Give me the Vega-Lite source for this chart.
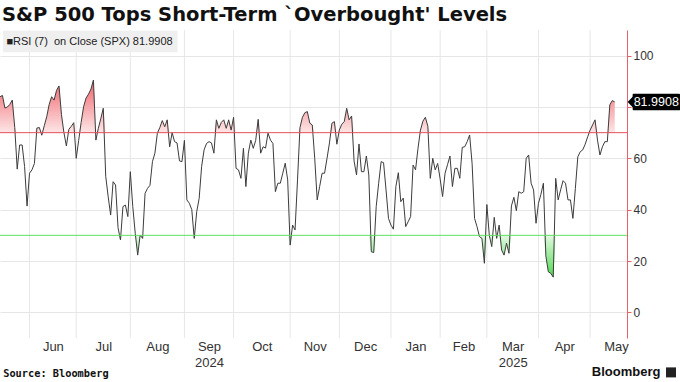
{
  "$schema": "https://vega.github.io/schema/vega-lite/v6.json",
  "width": 627,
  "height": 308,
  "autosize": "none",
  "padding": {"left": 0, "top": 30, "right": 53, "bottom": 44},
  "background": "#ffffff",
  "title": {"text": "S&P 500 Tops Short-Term `Overbought' Levels", "anchor": "start", "frame": "group", "font": "DejaVu Sans", "fontSize": 19.5, "fontWeight": "bold", "color": "#111111", "baseline": "alphabetic", "offset": 9, "dx": 2, "dy": 20},
  "config": {"view": {"stroke": null}, "axis": {"labelFont": "Liberation Sans", "labelColor": "#333333"}},
  "datasets": {
    "rsi": [
      {"i":0,"v":84},{"i":1,"v":84.5},{"i":2,"v":79.6},{"i":3,"v":80},{"i":4,"v":81},{"i":5,"v":82.7},{"i":6,"v":72},{"i":7,"v":55.8},{"i":8,"v":65.2},{"i":9,"v":65.2},
      {"i":10,"v":56.8},{"i":11,"v":41.4},{"i":12,"v":54.2},{"i":13,"v":55.5},{"i":14,"v":58},{"i":15,"v":71.8},{"i":16,"v":72},{"i":17,"v":69},{"i":18,"v":72.7},{"i":19,"v":76.2},
      {"i":20,"v":81},{"i":21,"v":84},{"i":22,"v":82.7},{"i":23,"v":86.5},{"i":24,"v":88.2},{"i":25,"v":77},{"i":26,"v":70},{"i":27,"v":64.8},{"i":28,"v":71.3},{"i":29,"v":72.5},
      {"i":30,"v":73.9},{"i":31,"v":60},{"i":32,"v":67},{"i":33,"v":74},{"i":34,"v":80.1},{"i":35,"v":83.5},{"i":36,"v":85},{"i":37,"v":87},{"i":38,"v":90.5},{"i":39,"v":67.1},
      {"i":40,"v":71.7},{"i":41,"v":75.5},{"i":42,"v":79.5},{"i":43,"v":53},{"i":44,"v":45},{"i":45,"v":37.9},{"i":46,"v":50.9},{"i":47,"v":49.6},{"i":48,"v":33},{"i":49,"v":28.2},
      {"i":50,"v":41.2},{"i":51,"v":41.8},{"i":52,"v":37.3},{"i":53,"v":54.8},{"i":54,"v":41.2},{"i":55,"v":30.8},{"i":56,"v":22.3},{"i":57,"v":30.1},{"i":58,"v":28.8},{"i":59,"v":46.4},
      {"i":60,"v":48.3},{"i":61,"v":49.5},{"i":62,"v":58.7},{"i":63,"v":62},{"i":64,"v":69.8},{"i":65,"v":72},{"i":66,"v":74.7},{"i":67,"v":72.3},{"i":68,"v":75},{"i":69,"v":64.5},
      {"i":70,"v":70},{"i":71,"v":66.5},{"i":72,"v":66},{"i":73,"v":59},{"i":74,"v":58.7},{"i":75,"v":67},{"i":76,"v":43.8},{"i":77,"v":42.5},{"i":78,"v":40},{"i":79,"v":28.8},
      {"i":80,"v":39.2},{"i":81,"v":44.4},{"i":82,"v":56.8},{"i":83,"v":63.3},{"i":84,"v":65.8},{"i":85,"v":66.5},{"i":86,"v":66},{"i":87,"v":62},{"i":88,"v":75},{"i":89,"v":71.7},
      {"i":90,"v":74},{"i":91,"v":75},{"i":92,"v":71.7},{"i":93,"v":75},{"i":94,"v":71},{"i":95,"v":76},{"i":96,"v":56.1},{"i":97,"v":55.5},{"i":98,"v":52.2},{"i":99,"v":63.9},
      {"i":100,"v":49},{"i":101,"v":62},{"i":102,"v":67.1},{"i":103,"v":63.9},{"i":104,"v":67},{"i":105,"v":75.2},{"i":106,"v":62},{"i":107,"v":64.5},{"i":108,"v":64},{"i":109,"v":69.8},
      {"i":110,"v":67.1},{"i":111,"v":65.8},{"i":112,"v":47},{"i":113,"v":50.3},{"i":114,"v":50.3},{"i":115,"v":54.2},{"i":116,"v":58.1},{"i":117,"v":51.6},{"i":118,"v":26.2},{"i":119,"v":34},
      {"i":120,"v":32.1},{"i":121,"v":51.6},{"i":122,"v":72},{"i":123,"v":76},{"i":124,"v":77.8},{"i":125,"v":78.2},{"i":126,"v":73.7},{"i":127,"v":73},{"i":128,"v":60},{"i":129,"v":43.8},
      {"i":130,"v":49},{"i":131,"v":54.2},{"i":132,"v":54.2},{"i":133,"v":60},{"i":134,"v":66},{"i":135,"v":73.7},{"i":136,"v":74.3},{"i":137,"v":65.5},{"i":138,"v":71},{"i":139,"v":73.3},
      {"i":140,"v":74.3},{"i":141,"v":79.5},{"i":142,"v":75},{"i":143,"v":76.5},{"i":144,"v":59},{"i":145,"v":53.5},{"i":146,"v":65.6},{"i":147,"v":54.8},{"i":148,"v":54.8},{"i":149,"v":60.9},
      {"i":150,"v":53.5},{"i":151,"v":23.6},{"i":152,"v":23.3},{"i":153,"v":41.2},{"i":154,"v":50.3},{"i":155,"v":58.7},{"i":156,"v":58.3},{"i":157,"v":47.7},{"i":158,"v":36.6},{"i":159,"v":34},
      {"i":160,"v":32.4},{"i":161,"v":49},{"i":162,"v":54.4},{"i":163,"v":43.1},{"i":164,"v":44.5},{"i":165,"v":33.4},{"i":166,"v":35.3},{"i":167,"v":37.3},{"i":168,"v":57.4},{"i":169,"v":55.5},
      {"i":170,"v":63.9},{"i":171,"v":71},{"i":172,"v":74.5},{"i":173,"v":76},{"i":174,"v":72.5},{"i":175,"v":52.2},{"i":176,"v":60},{"i":177,"v":55.5},{"i":178,"v":58},{"i":179,"v":52},
      {"i":180,"v":45.1},{"i":181,"v":54.2},{"i":182,"v":57.5},{"i":183,"v":60.9},{"i":184,"v":49},{"i":185,"v":56.1},{"i":186,"v":56.1},{"i":187,"v":52.2},{"i":188,"v":64.3},{"i":189,"v":64.5},
      {"i":190,"v":66.5},{"i":191,"v":69.1},{"i":192,"v":58},{"i":193,"v":36.6},{"i":194,"v":33.4},{"i":195,"v":29.5},{"i":196,"v":28.8},{"i":197,"v":19.1},{"i":198,"v":42},{"i":199,"v":30},
      {"i":200,"v":25.6},{"i":201,"v":37},{"i":202,"v":28.8},{"i":203,"v":34},{"i":204,"v":24.3},{"i":205,"v":22.3},{"i":206,"v":26.9},{"i":207,"v":23},{"i":208,"v":41.5},{"i":209,"v":44.8},
      {"i":210,"v":39.6},{"i":211,"v":47},{"i":212,"v":46.4},{"i":213,"v":47},{"i":214,"v":60},{"i":215,"v":61.3},{"i":216,"v":50.3},{"i":217,"v":47.7},{"i":218,"v":34.7},{"i":219,"v":42.5},
      {"i":220,"v":46},{"i":221,"v":50.3},{"i":222,"v":22},{"i":223,"v":15.8},{"i":224,"v":15.2},{"i":225,"v":13.7},{"i":226,"v":52.2},{"i":227,"v":43.8},{"i":228,"v":47.7},{"i":229,"v":51.3},
      {"i":230,"v":50.3},{"i":231,"v":43.8},{"i":232,"v":43.8},{"i":233,"v":36.6},{"i":234,"v":48.3},{"i":235,"v":60.6},{"i":236,"v":62.6},{"i":237,"v":63.3},{"i":238,"v":65.5},{"i":239,"v":68.4},
      {"i":240,"v":71},{"i":241,"v":73},{"i":242,"v":75},{"i":243,"v":67.1},{"i":244,"v":61.3},{"i":245,"v":64.5},{"i":246,"v":66.5},{"i":247,"v":66.5},{"i":248,"v":80.8},{"i":249,"v":82.5},
      {"i":250,"v":81.9908}
    ],
    "months": [{"i":12},{"i":31},{"i":53},{"i":75},{"i":95},{"i":118},{"i":138},{"i":159},{"i":179},{"i":198},{"i":219},{"i":240}],
    "one": [{}]
  },
  "resolve": {"scale": {"y": "independent"}},
  "layer": [
    {
      "data": {"name": "months"},
      "mark": {"type": "rule", "color": "#e6e6e6", "strokeWidth": 1},
      "encoding": {
        "x": {"field": "i", "type": "quantitative", "scale": {"domain": [0, 255], "nice": false, "zero": false},
          "axis": {"values": [21.5, 42, 64, 85, 106.5, 128, 148.5, 169, 188.5, 208.5, 229.5, 250.5],
            "labelExpr": "datum.value < 30 ? 'Jun' : datum.value < 50 ? 'Jul' : datum.value < 70 ? 'Aug' : datum.value < 95 ? ['Sep', '2024'] : datum.value < 115 ? 'Oct' : datum.value < 140 ? 'Nov' : datum.value < 160 ? 'Dec' : datum.value < 180 ? 'Jan' : datum.value < 200 ? 'Feb' : datum.value < 220 ? ['Mar', '2025'] : datum.value < 240 ? 'Apr' : 'May'",
            "grid": false, "ticks": false, "domain": false, "title": null, "labelFontSize": 13, "labelPadding": 2, "labelLineHeight": 16, "labelOverlap": false, "labelFlush": false}}
      }
    },
    {
      "data": {"name": "rsi"},
      "mark": {"type": "area", "interpolate": "linear", "color": {"gradient": "linear", "x1": 0, "y1": 0, "x2": 0, "y2": 1, "stops": [{"offset": 0, "color": "#f0646c"}, {"offset": 1, "color": "#fde6e6"}]}},
      "encoding": {
        "x": {"field": "i", "type": "quantitative", "scale": {"domain": [0, 255], "nice": false, "zero": false}},
        "y": {"field": "v", "type": "quantitative", "scale": {"domain": [70, 110], "range": [102.667, 0], "clamp": true, "nice": false, "zero": false}, "axis": null},
        "y2": {"datum": 70}
      }
    },
    {
      "data": {"name": "rsi"},
      "mark": {"type": "area", "interpolate": "linear", "color": {"gradient": "linear", "x1": 0, "y1": 0, "x2": 0, "y2": 1, "stops": [{"offset": 0, "color": "#e2f9e2"}, {"offset": 1, "color": "#4fd84f"}]}},
      "encoding": {
        "x": {"field": "i", "type": "quantitative", "scale": {"domain": [0, 255], "nice": false, "zero": false}},
        "y": {"field": "v", "type": "quantitative", "scale": {"domain": [-10, 30], "range": [308, 205.333], "clamp": true, "nice": false, "zero": false}, "axis": null},
        "y2": {"datum": 30}
      }
    },
    {
      "layer": [
        {
          "data": {"name": "rsi"},
          "mark": {"type": "line", "color": "#3c3c3c", "strokeWidth": 1, "interpolate": "linear"},
          "encoding": {
            "x": {"field": "i", "type": "quantitative", "scale": {"domain": [0, 255], "nice": false, "zero": false}},
            "y": {"field": "v", "type": "quantitative", "scale": {"domain": [-10, 110], "nice": false, "zero": false},
              "axis": {"orient": "right", "values": [0, 20, 40, 60, 80, 100], "labelExpr": "datum.value == 80 ? '' : datum.label", "grid": true, "gridColor": "#e6e6e6", "domainColor": "#e8606a", "tickColor": "#e8606a", "tickSize": 4, "labelPadding": 2, "labelFontSize": 12, "title": null}}
          }
        },
        {
          "data": {"name": "one"},
          "mark": {"type": "rule", "color": "#e4505c", "strokeWidth": 1},
          "encoding": {"y": {"datum": 70, "type": "quantitative", "scale": {"domain": [-10, 110], "nice": false, "zero": false}}}
        },
        {
          "data": {"name": "one"},
          "mark": {"type": "rule", "color": "#5fe05f", "strokeWidth": 1},
          "encoding": {"y": {"datum": 30, "type": "quantitative"}}
        },
        {
          "data": {"name": "one"},
          "mark": {"type": "rect", "color": "#000000", "cornerRadius": 1},
          "encoding": {"x": {"datum": 257.3}, "x2": {"datum": 276.6}, "y": {"datum": 85.2, "type": "quantitative"}, "y2": {"datum": 78.7}}
        },
        {
          "data": {"name": "one"},
          "mark": {"type": "point", "shape": "M0.6,-1L-0.35,0L0.6,1Z", "filled": true, "opacity": 1, "color": "#000000", "size": 280},
          "encoding": {"x": {"datum": 256.45}, "y": {"datum": 81.95, "type": "quantitative"}}
        },
        {
          "data": {"name": "one"},
          "mark": {"type": "text", "text": "81.9908", "color": "#ffffff", "font": "Liberation Sans", "fontSize": 12.5, "align": "left", "baseline": "middle", "dx": 1},
          "encoding": {"x": {"datum": 257.3}, "y": {"datum": 81.99, "type": "quantitative"}}
        },
        {
          "data": {"name": "one"},
          "mark": {"type": "rect", "color": "#efefef"},
          "encoding": {"x": {"datum": 1.2}, "x2": {"datum": 72.2}, "y": {"datum": 109.7, "type": "quantitative"}, "y2": {"datum": 101.3}}
        },
        {
          "data": {"name": "one"},
          "mark": {"type": "text", "text": "■RSI (7)\u00a0 on Close (SPX) 81.9908", "color": "#222222", "font": "Liberation Sans", "fontSize": 11, "align": "left", "baseline": "middle"},
          "encoding": {"x": {"datum": 2.6}, "y": {"datum": 105.5, "type": "quantitative"}}
        },
        {
          "data": {"name": "one"},
          "mark": {"type": "text", "text": "Source: Bloomberg", "color": "#111111", "font": "DejaVu Sans Mono", "fontWeight": "bold", "fontSize": 10.3, "align": "left", "baseline": "middle"},
          "encoding": {"x": {"datum": 1.3}, "y": {"datum": -24, "type": "quantitative"}}
        },
        {
          "data": {"name": "one"},
          "mark": {"type": "text", "text": "Bloomberg", "color": "#111111", "font": "Liberation Sans", "fontWeight": "bold", "fontSize": 13, "align": "right", "baseline": "middle"},
          "encoding": {"x": {"datum": 268.6}, "y": {"datum": -23.2, "type": "quantitative"}}
        },
        {
          "data": {"name": "one"},
          "mark": {"type": "point", "shape": "square", "filled": true, "opacity": 1, "color": "#222222", "size": 100},
          "encoding": {"x": {"datum": 272.9}, "y": {"datum": -23.4, "type": "quantitative"}}
        }
      ]
    }
  ]
}
